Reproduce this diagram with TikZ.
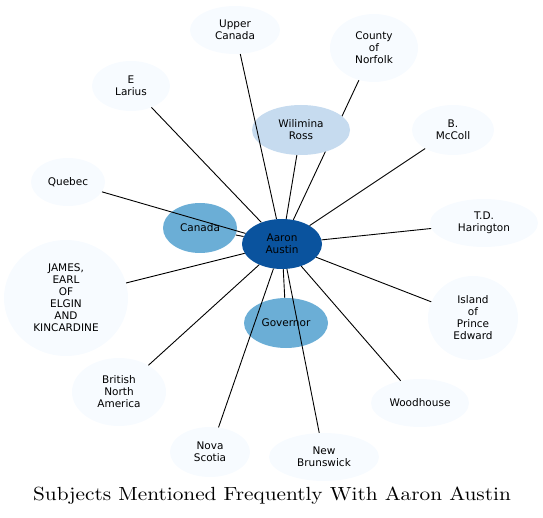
\documentclass[tikz,border=0pt]{standalone}
\usepackage{fontspec}
\newfontfamily\nodefont{DejaVu Sans}
\newfontfamily\titlefont{lmroman10-regular}[Extension=.otf]
\usetikzlibrary{shapes.geometric}
\definecolor{cdark}{HTML}{0A539E}
\definecolor{cmid}{HTML}{6BAED6}
\definecolor{clight}{HTML}{C6DBEF}
\definecolor{cpale}{HTML}{F7FBFF}
\pgfdeclarelayer{bg}
\pgfsetlayers{bg,main}
\tikzset{
  ent/.style={ellipse, inner sep=0pt, align=center, font=\nodefont\fontsize{10.5}{12}\selectfont, text=black},
  pale/.style={ent, fill=cpale},
  link/.style={draw=black, line width=0.9pt},
}
\begin{document}
\begin{tikzpicture}[x=1pt,y=-1pt]
\useasboundingbox (0,0) rectangle (543,518);
% nodes
\node[pale, minimum width=90, minimum height=48] (uc) at (235,30) {Upper\\Canada};
\node[pale, minimum width=88, minimum height=68] (cn) at (374,48) {County\\of\\Norfolk};
\node[pale, minimum width=78, minimum height=50] (el) at (131,86) {E\\Larius};
\node[pale, minimum width=82, minimum height=50] (bm) at (453,130) {B.\\McColl};
\node[pale, minimum width=74, minimum height=48] (qu) at (68,182) {Quebec};
\node[pale, minimum width=108, minimum height=48] (td) at (484,223) {T.D.\\Harington};
\node[pale, minimum width=124, minimum height=116] (ja) at (66,298) {JAMES,\\EARL\\OF\\ELGIN\\AND\\KINCARDINE};
\node[pale, minimum width=90, minimum height=84] (ip) at (473,318) {Island\\of\\Prince\\Edward};
\node[pale, minimum width=94, minimum height=68] (bn) at (119,392) {British\\North\\America};
\node[pale, minimum width=98, minimum height=48] (wh) at (420,403) {Woodhouse};
\node[pale, minimum width=80, minimum height=50] (ns) at (210,452) {Nova\\Scotia};
\node[pale, minimum width=110, minimum height=48] (nb) at (324,457) {New\\Brunswick};
\node[ent, fill=cmid, minimum width=74, minimum height=50] (ca) at (200,228) {Canada};
\node[ent, fill=cmid, minimum width=84, minimum height=50] (go) at (286,323) {Governor};
\node[ent, fill=clight, minimum width=98, minimum height=50] (wr) at (301,130) {Wilimina\\Ross};
\node[ent, fill=cdark, minimum width=80, minimum height=50] (aa) at (282,244) {Aaron\\Austin};
% edge hidden under Wilimina Ross
\begin{pgfonlayer}{bg}
\draw[link] (aa) -- (cn);
\end{pgfonlayer}
% edges
\foreach \t in {uc,el,bm,qu,td,ja,ip,bn,wh,ns,nb,ca,go,wr}
  \draw[link] (aa) -- (\t);
% title
\node[font=\titlefont\fontsize{19}{22}\selectfont, xscale=1.12] (title) at (272,496) {Subjects Mentioned Frequently With Aaron Austin};
\end{tikzpicture}
\end{document}
